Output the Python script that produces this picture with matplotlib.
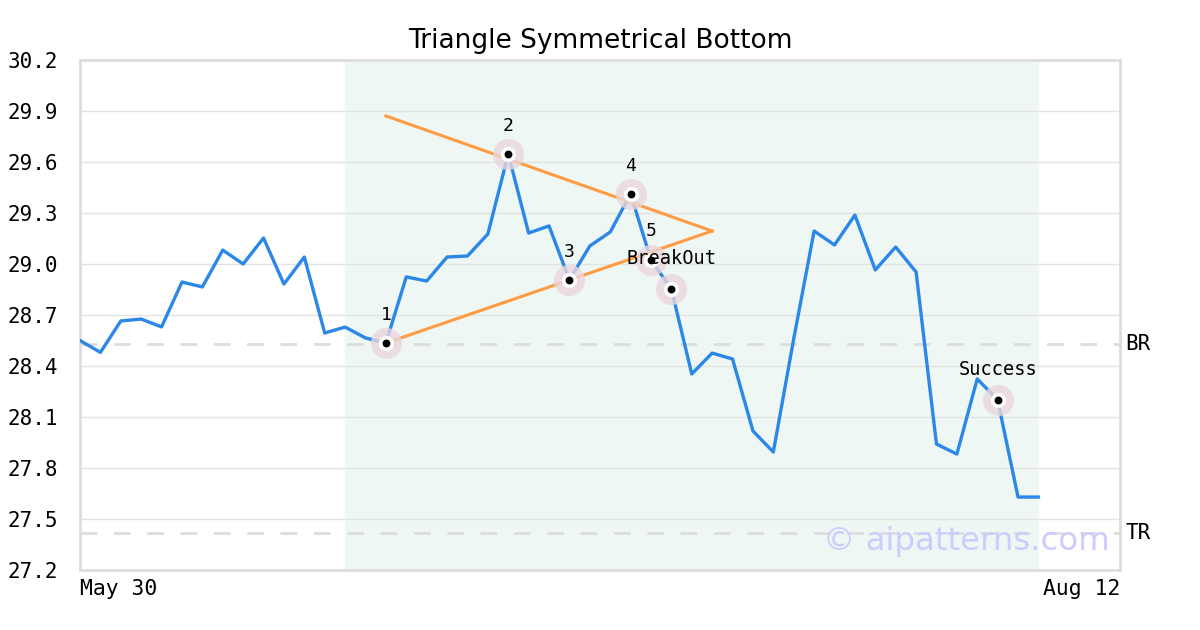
import matplotlib
matplotlib.use("Agg")
import matplotlib.pyplot as plt

# price series (one point per session)
prices = [
    28.55, 28.48, 28.665, 28.676, 28.63, 28.894, 28.865, 29.082, 29.0, 29.153,
    28.882, 29.041, 28.594, 28.629, 28.565, 28.535, 28.924, 28.9, 29.041, 29.047,
    29.176, 29.647, 29.182, 29.224, 28.906, 29.106, 29.188, 29.412, 29.024, 28.853,
    28.353, 28.476, 28.441, 28.018, 27.894, 28.56, 29.194, 29.112, 29.288, 28.965,
    29.1, 28.953, 27.941, 27.882, 28.324, 28.2, 27.629, 27.629,
]
x_dates = ["May 30", "Aug 12"]

# pattern points: index, label
pivot_idx = [15, 21, 24, 27, 28]
pivot_lbl = ["1", "2", "3", "4", "5"]
breakout_idx = 29
success_idx = 45

# triangle lines (index, value)
upper_line_x = [15, 31]
upper_line_y = [29.871, 29.194]
lower_line_x = [15, 31]
lower_line_y = [28.535, 29.194]

br_level = 28.53
tr_level = 27.418
shade_range = [13, 47]

yticks = [27.2, 27.5, 27.8, 28.1, 28.4, 28.7, 29.0, 29.3, 29.6, 29.9, 30.2]

mono = "DejaVu Sans Mono"

fig = plt.figure(figsize=(12, 6.3), dpi=100)
ax = fig.add_axes([80 / 1200, 60 / 630, 1040 / 1200, 510 / 630])

ax.set_xlim(0, 51)
ax.set_ylim(27.2, 30.2)

ax.axvspan(shade_range[0], shade_range[1], color="#eef7f3", zorder=0)
for t in yticks:
    ax.axhline(t, color="#e3e3e3", lw=1, zorder=1)

ax.axhline(br_level, color="#dddddd", lw=2, ls=(0, (6, 6)), zorder=2)
ax.axhline(tr_level, color="#dddddd", lw=2, ls=(0, (6, 6)), zorder=2)

xs = list(range(len(prices)))
ax.plot(xs, prices, color="#2b87e8", lw=2.4, zorder=3)

ax.plot(upper_line_x, upper_line_y, color="#ff9b42", lw=2.2, zorder=4)
ax.plot(lower_line_x, lower_line_y, color="#ff9b42", lw=2.2, zorder=4)

marks = pivot_idx + [breakout_idx, success_idx]
for i in marks:
    ax.scatter(i, prices[i], s=500, color="#e9d6dc", alpha=0.8, zorder=5, lw=0)
    ax.scatter(i, prices[i], s=120, color="white", zorder=6, lw=0)
    ax.scatter(i, prices[i], s=32, color="black", zorder=7, lw=0)

for i, lbl in zip(pivot_idx, pivot_lbl):
    ax.annotate(lbl, (i, prices[i]), xytext=(0, 14), textcoords="offset points",
                ha="center", va="bottom", fontsize=13, family=mono, zorder=8)
ax.annotate("BreakOut", (breakout_idx, prices[breakout_idx]), xytext=(0, 15),
            textcoords="offset points", ha="center", va="bottom", fontsize=13.4,
            family=mono, zorder=8)
ax.annotate("Success", (success_idx, prices[success_idx]), xytext=(0, 15),
            textcoords="offset points", ha="center", va="bottom", fontsize=13.4,
            family=mono, zorder=8)

ax.text(1.005, (br_level - 27.2) / 3.0, "BR", transform=ax.transAxes, ha="left",
        va="center", fontsize=15, family=mono)
ax.text(1.005, (tr_level - 27.2) / 3.0, "TR", transform=ax.transAxes, ha="left",
        va="center", fontsize=15, family=mono)

ax.text(0.99, 0.055, "\u00a9 aipatterns.com", transform=ax.transAxes, ha="right",
        va="center", fontsize=23.3, color="#ccccff", zorder=9)

ax.set_yticks(yticks)
ax.set_yticklabels([f"{t:.1f}" for t in yticks], family=mono, fontsize=15)
ax.tick_params(axis="y", length=0, pad=16)
ax.set_xticks([])
ax.text(0, -0.018, x_dates[0], transform=ax.transAxes, ha="left", va="top",
        fontsize=15.4, family=mono)
ax.text(1, -0.018, x_dates[1], transform=ax.transAxes, ha="right", va="top",
        fontsize=15.4, family=mono)

for s in ax.spines.values():
    s.set_color("#dddddd")
    s.set_linewidth(2)

ax.set_title("Triangle Symmetrical Bottom", fontsize=19, pad=9)

fig.savefig("out.png", dpi=100)
